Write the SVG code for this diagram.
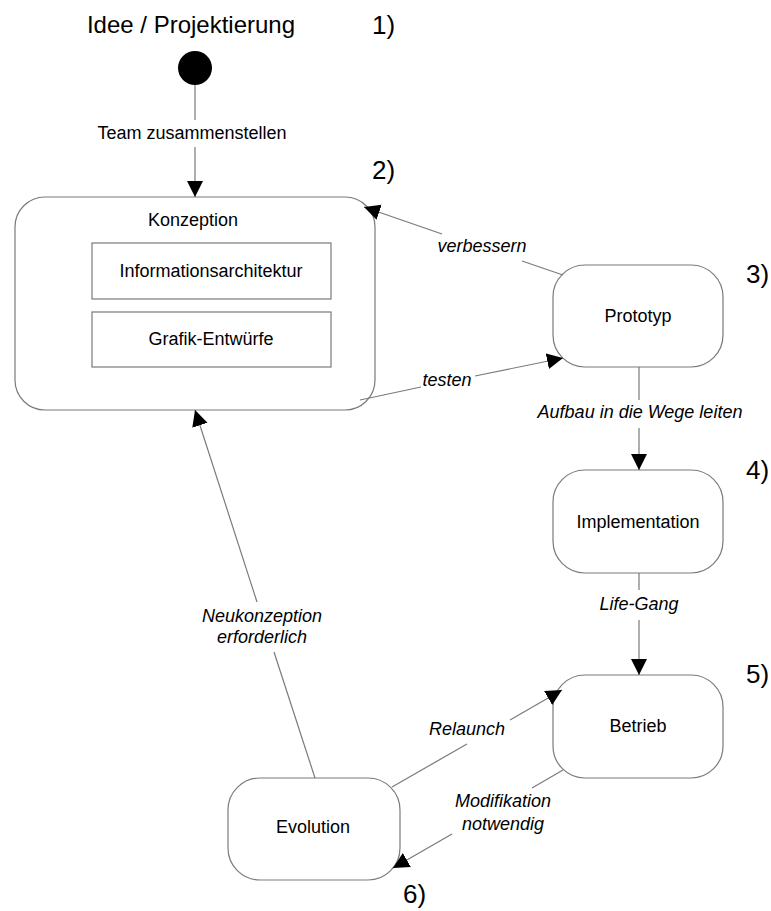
<svg xmlns="http://www.w3.org/2000/svg" width="771" height="911" viewBox="0 0 771 911">
  <style>
    text { font-family: "Liberation Sans", Arial, sans-serif; fill: #000; }
    .lbl { font-size: 18px; text-anchor: middle; }
    .it { font-size: 18px; font-style: italic; text-anchor: middle; }
    .num { font-size: 26px; }
    .title { font-size: 24px; text-anchor: middle; }
    .state { fill: #fff; stroke: #7a7a7a; stroke-width: 1.2; }
    .edge { fill: none; stroke: #7a7a7a; stroke-width: 1.2; }
  </style>
  <defs>
    <marker id="arrow" markerUnits="userSpaceOnUse" markerWidth="18" markerHeight="18" refX="16" refY="8" orient="auto">
      <path d="M0,0 L16,8 L0,16 z" fill="#000"/>
    </marker>
  </defs>

  <rect width="771" height="911" fill="#fff"/>

  <!-- phase numbers -->
  <text class="num" x="372" y="34">1)</text>
  <text class="num" x="372" y="179">2)</text>
  <text class="num" x="746" y="283">3)</text>
  <text class="num" x="746" y="479">4)</text>
  <text class="num" x="746" y="683">5)</text>
  <text class="num" x="403" y="903">6)</text>

  <!-- start -->
  <g id="start">
    <text class="title" x="191" y="33">Idee / Projektierung</text>
    <circle cx="195" cy="68" r="17" fill="#000"/>
  </g>

  <g id="konzeption">
    <rect class="state" x="15" y="197" width="360" height="213" rx="30" ry="30"/>
    <text class="lbl" x="193" y="226">Konzeption</text>
    <rect class="state" x="92" y="243" width="239" height="56"/>
    <text class="lbl" x="211" y="277">Informationsarchitektur</text>
    <rect class="state" x="92" y="312" width="239" height="55"/>
    <text class="lbl" x="211" y="345">Grafik-Entwürfe</text>
  </g>

  <g id="prototyp">
    <rect class="state" x="553" y="265" width="170" height="102" rx="32" ry="32"/>
    <text class="lbl" x="638" y="322">Prototyp</text>
  </g>

  <g id="implementation">
    <rect class="state" x="553" y="470" width="170" height="103" rx="32" ry="32"/>
    <text class="lbl" x="638" y="528">Implementation</text>
  </g>

  <g id="betrieb">
    <rect class="state" x="553" y="675" width="170" height="103" rx="32" ry="32"/>
    <text class="lbl" x="638" y="732">Betrieb</text>
  </g>

  <g id="evolution">
    <rect class="state" x="228" y="778" width="172" height="102" rx="32" ry="32"/>
    <text class="lbl" x="313" y="833">Evolution</text>
  </g>

  <g id="connectors">
    <!-- start to Konzeption -->
    <line class="edge" x1="195" y1="85" x2="195" y2="120"/>
    <line class="edge" x1="195" y1="147" x2="195" y2="197" marker-end="url(#arrow)"/>
    <text class="lbl" x="192" y="139">Team zusammenstellen</text>

    <!-- Prototyp to Konzeption -->
    <line class="edge" x1="563" y1="275" x2="522" y2="261"/>
    <line class="edge" x1="442" y1="234" x2="364" y2="207" marker-end="url(#arrow)"/>
    <text class="it" x="482" y="252">verbessern</text>

    <!-- Konzeption to Prototyp -->
    <line class="edge" x1="360" y1="400" x2="421" y2="387"/>
    <line class="edge" x1="475" y1="376" x2="563" y2="358" marker-end="url(#arrow)"/>
    <text class="it" x="447" y="386">testen</text>

    <!-- Prototyp to Implementation -->
    <line class="edge" x1="639" y1="367" x2="639" y2="400"/>
    <line class="edge" x1="639" y1="428" x2="639" y2="470" marker-end="url(#arrow)"/>
    <text class="it" x="640" y="418">Aufbau in die Wege leiten</text>

    <!-- Implementation to Betrieb -->
    <line class="edge" x1="639" y1="573" x2="639" y2="590"/>
    <line class="edge" x1="639" y1="620" x2="639" y2="675" marker-end="url(#arrow)"/>
    <text class="it" x="639" y="610">Life-Gang</text>

    <!-- Evolution to Betrieb -->
    <line class="edge" x1="392" y1="787" x2="467" y2="744"/>
    <line class="edge" x1="510" y1="720" x2="562" y2="690" marker-end="url(#arrow)"/>
    <text class="it" x="467" y="735">Relaunch</text>

    <!-- Betrieb to Evolution -->
    <line class="edge" x1="563" y1="770" x2="532" y2="788"/>
    <line class="edge" x1="452" y1="834" x2="393" y2="868" marker-end="url(#arrow)"/>
    <text class="it" x="503" y="807">Modifikation</text>
    <text class="it" x="503" y="830">notwendig</text>

    <!-- Evolution to Konzeption -->
    <line class="edge" x1="315" y1="778" x2="274" y2="652"/>
    <line class="edge" x1="257" y1="602" x2="195" y2="410" marker-end="url(#arrow)"/>
    <text class="it" x="262" y="622">Neukonzeption</text>
    <text class="it" x="262" y="643">erforderlich</text>
  </g>
</svg>
